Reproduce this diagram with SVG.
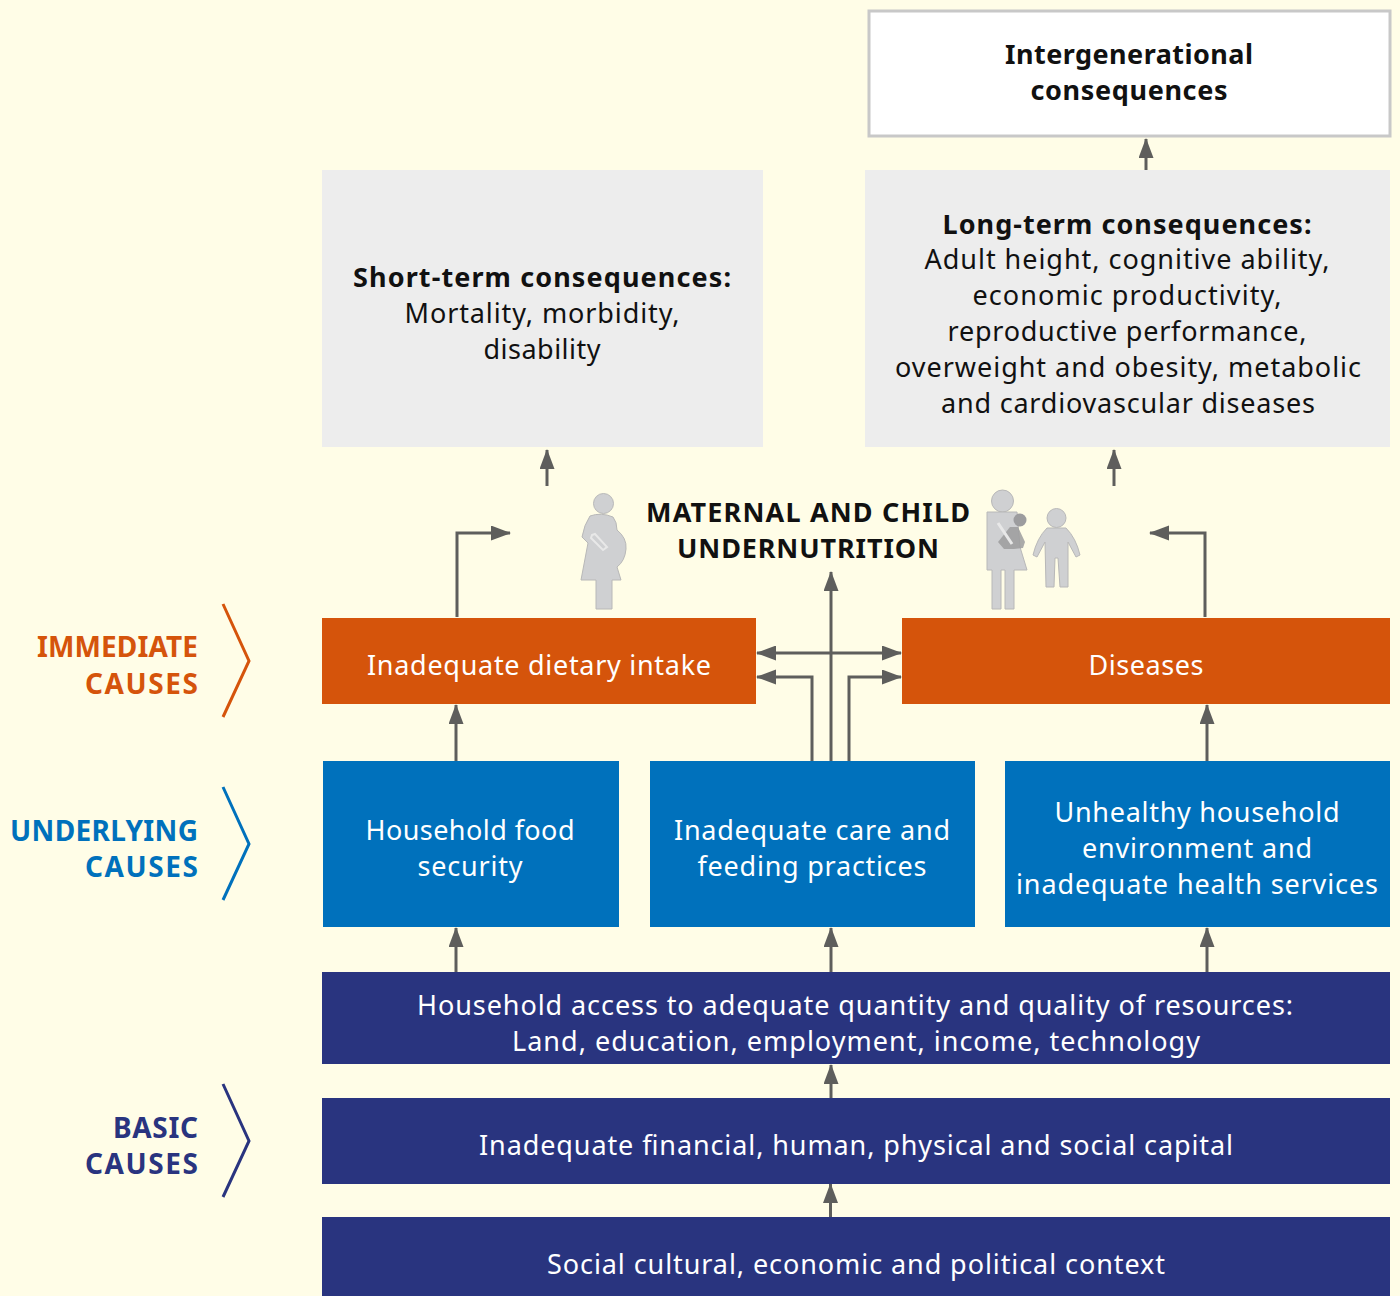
<svg xmlns="http://www.w3.org/2000/svg" width="1400" height="1296" viewBox="0 0 1400 1296">
<style>
text{font-family:"Noto Sans","Liberation Sans",sans-serif;font-size:27px;text-anchor:middle}
.w{fill:#fff}.k{fill:#111}.b{font-weight:700}
.side{font-weight:700;text-anchor:end;font-size:28px}
.c{fill:none;stroke:#5e5e5c;stroke-width:3;marker-end:url(#a)}
.d{fill:none;stroke:#5e5e5c;stroke-width:3;marker-end:url(#a);marker-start:url(#s)}
.chev{fill:none;stroke-width:3}
.fig{fill:#cfd0d2;stroke:#b8b8b8;stroke-width:1;stroke-linejoin:round}
</style>
<defs>
<marker id="a" markerUnits="userSpaceOnUse" markerWidth="20" markerHeight="16" refX="19" refY="7.5" orient="auto"><path d="M0 0L20 7.5L0 15z" fill="#5e5e5c"/></marker>
<marker id="s" markerUnits="userSpaceOnUse" markerWidth="20" markerHeight="16" refX="1" refY="7.5" orient="auto"><path d="M20 0L0 7.5L20 15z" fill="#5e5e5c"/></marker>
</defs>
<rect width="1400" height="1296" fill="#fffde7"/>
<g id="connectors">
<path class="c" d="M1146 170V139"/>
<path class="c" d="M547 486V450"/>
<path class="c" d="M1114 486V450"/>
<path class="c" d="M457 617V533H510"/>
<path class="c" d="M1205 617V533H1150"/>
<path class="c" d="M831 761V572"/>
<path class="d" d="M757 653H901"/>
<path class="c" d="M812 761V677H757"/>
<path class="c" d="M849 761V677H901"/>
<path class="c" d="M456 761V705"/>
<path class="c" d="M1207 761V705"/>
<path class="c" d="M456 972V928"/>
<path class="c" d="M831 972V928"/>
<path class="c" d="M1207 972V928"/>
<path class="c" d="M831 1098V1065"/>
<path class="c" d="M830.500 1217V1184"/>
</g>
<g id="intergenerational"><rect x="869" y="11" width="521" height="125" fill="#fff" stroke="#c8c8c8" stroke-width="3"/><text class="k b" x="1129" y="64" textLength="248">Intergenerational</text><text class="k b" x="1129" y="100" textLength="197">consequences</text></g>
<g id="short-term"><rect x="322" y="170" width="441" height="277" fill="#ededed"/><text class="k b" x="542" y="287" textLength="378">Short-term consequences:</text><text class="k" x="542" y="323" textLength="275">Mortality, morbidity,</text><text class="k" x="542" y="359" textLength="117">disability</text></g>
<g id="long-term"><rect x="865" y="170" width="525" height="277" fill="#ededed"/><text class="k b" x="1127" y="234" textLength="369">Long-term consequences:</text><text class="k" x="1127" y="269" textLength="405">Adult height, cognitive ability,</text><text class="k" x="1127" y="305" textLength="309">economic productivity,</text><text class="k" x="1127" y="341" textLength="359">reproductive performance,</text><text class="k" x="1128" y="377" textLength="466">overweight and obesity, metabolic</text><text class="k" x="1128" y="413" textLength="374">and cardiovascular diseases</text></g>
<g id="undernutrition"><text class="k b" x="808" y="522" textLength="324">MATERNAL AND CHILD</text><text class="k b" x="808" y="558" textLength="262">UNDERNUTRITION</text></g>
<g id="figure-pregnant">
<circle class="fig" cx="603.500" cy="503.500" r="10"/>
<path class="fig" d="M590 516Q601 512 613 517Q617 522 617 530Q627 538 626 549Q625 561 617 567L621 580H612V609H596V580H581L588 543L582 537Q584 525 590 516Z"/>
<path d="M592 535L595 534L607 547L603 550L591 538Z" fill="none" stroke="#e8e8e8" stroke-width="2"/>
</g>
<g id="figure-mother-child">
<circle class="fig" cx="1002.500" cy="501" r="11"/>
<path class="fig" d="M987 512H1017L1020 547L1027 570H1014V609H1005V570H1001V609H992V570H987Z"/>
<path d="M1010 527L1018 527L1025 542L1023 548L1014 549L1004 549L998 542Z" fill="#9c9c9e" opacity=".85"/>
<circle cx="1020" cy="520" r="6.500" fill="#9c9c9e"/>
<path d="M998 523L1012 544" stroke="#e8e8e8" stroke-width="3"/>
<circle class="fig" cx="1056.500" cy="518" r="9.500"/>
<path class="fig" d="M1047 528H1066Q1076 538 1080 555L1076 557L1068 542V587H1060L1058 558H1055L1054 587H1046L1045 542L1037 557L1033 555Q1037 538 1047 528Z"/>
</g>
<g id="dietary"><rect x="322" y="618" width="434" height="86" fill="#d5540b"/><text class="w" x="539" y="675" textLength="344">Inadequate dietary intake</text></g>
<g id="diseases"><rect x="902" y="618" width="488" height="86" fill="#d5540b"/><text class="w" x="1146" y="675" textLength="115">Diseases</text></g>
<g id="food-security"><rect x="323" y="761" width="296" height="166" fill="#0071bc"/><text class="w" x="470" y="840" textLength="209">Household food</text><text class="w" x="470" y="876" textLength="105">security</text></g>
<g id="care"><rect x="650" y="761" width="325" height="166" fill="#0071bc"/><text class="w" x="812" y="840" textLength="276">Inadequate care and</text><text class="w" x="812" y="876" textLength="229">feeding practices</text></g>
<g id="environment"><rect x="1005" y="761" width="385" height="166" fill="#0071bc"/><text class="w" x="1197" y="822" textLength="285">Unhealthy household</text><text class="w" x="1197" y="858" textLength="230">environment and</text><text class="w" x="1197" y="894" textLength="362">inadequate health services</text></g>
<g id="access"><rect x="322" y="972" width="1068" height="92" fill="#29347f"/><text class="w" x="855" y="1015" textLength="876">Household access to adequate quantity and quality of resources:</text><text class="w" x="856" y="1051" textLength="688">Land, education, employment, income, technology</text></g>
<g id="capital"><rect x="322" y="1098" width="1068" height="86" fill="#29347f"/><text class="w" x="856" y="1155" textLength="754">Inadequate financial, human, physical and social capital</text></g>
<g id="context"><rect x="322" y="1217" width="1068" height="79" fill="#29347f"/><text class="w" x="856" y="1274" textLength="618">Social cultural, economic and political context</text></g>
<g id="label-immediate"><text class="side" x="198" y="657" fill="#d5540b" textLength="161">IMMEDIATE</text><text class="side" x="198" y="694" fill="#d5540b" textLength="113">CAUSES</text><path class="chev" d="M223 604L249 661L223 717" stroke="#d5540b"/></g>
<g id="label-underlying"><text class="side" x="198" y="841" fill="#0071bc" textLength="188">UNDERLYING</text><text class="side" x="198" y="877" fill="#0071bc" textLength="113">CAUSES</text><path class="chev" d="M223 787L249 844L223 900" stroke="#0071bc"/></g>
<g id="label-basic"><text class="side" x="198" y="1138" fill="#29347f" textLength="85">BASIC</text><text class="side" x="198" y="1174" fill="#29347f" textLength="113">CAUSES</text><path class="chev" d="M223 1084L249 1141L223 1197" stroke="#29347f"/></g>
</svg>
